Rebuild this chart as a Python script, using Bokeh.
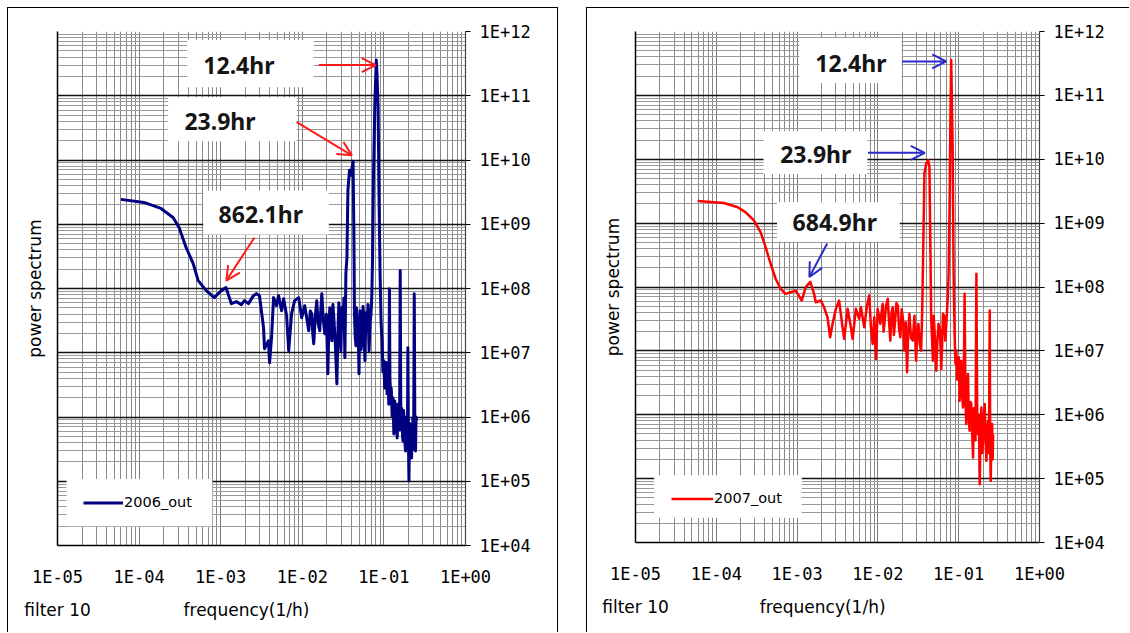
from bokeh.plotting import figure
from bokeh.models import (LogAxis, CustomJSTickFormatter, Label, BoxAnnotation, Arrow,
                          OpenHead, Legend, LegendItem, ColumnDataSource, FixedTicker, Spacer)
from bokeh.layouts import row, column
from bokeh.embed import file_html
from bokeh.resources import INLINE

# ---------------- data (log10 of frequency [1/h] and log10 of power) ----------------
log_freq_2006 = [-4.224, -3.941, -3.732, -3.584, -3.510, -3.424, -3.337, -3.276, -3.177, -3.079,
                 -2.993, -2.936, -2.869, -2.808, -2.746, -2.709, -2.660, -2.599, -2.562, -2.525,
                 -2.475, -2.463, -2.414, -2.401, -2.377, -2.352, -2.315, -2.291, -2.254, -2.229,
                 -2.192, -2.167, -2.131, -2.094, -2.044, -2.007, -1.970, -1.921, -1.902, -1.884,
                 -1.872, -1.860, -1.842, -1.823, -1.805, -1.786, -1.774, -1.761, -1.742, -1.724,
                 -1.705, -1.687, -1.675, -1.663, -1.650, -1.638, -1.625, -1.613, -1.594, -1.576,
                 -1.564, -1.552, -1.540, -1.527, -1.515, -1.502, -1.490, -1.478, -1.466, -1.453,
                 -1.441, -1.422, -1.404, -1.378, -1.367, -1.361, -1.352, -1.342, -1.336, -1.330,
                 -1.318, -1.305, -1.299, -1.293, -1.280, -1.268, -1.256, -1.244, -1.238, -1.232,
                 -1.220, -1.207, -1.195, -1.182, -1.170, -1.158, -1.148, -1.139, -1.127, -1.110,
                 -1.093, -1.084, -1.071, -1.059, -1.047, -1.034, -1.022, -1.012, -1.001, -0.991,
                 -0.982, -0.971, -0.961, -0.954, -0.948, -0.940, -0.932, -0.926, -0.920, -0.910,
                 -0.899, -0.889, -0.878, -0.868, -0.858, -0.847, -0.837, -0.827, -0.817, -0.808,
                 -0.800, -0.792, -0.784, -0.775, -0.767, -0.759, -0.751, -0.743, -0.735, -0.726,
                 -0.718, -0.712, -0.706, -0.699, -0.693, -0.685, -0.677, -0.669, -0.661, -0.652,
                 -0.644, -0.636, -0.628, -0.620, -0.612, -0.606, -0.600]
log_power_2006 = [9.387, 9.340, 9.246, 9.106, 8.950, 8.638, 8.388, 8.123, 7.967, 7.858,
                  7.967, 8.014, 7.764, 7.796, 7.749, 7.811, 7.764, 7.889, 7.920, 7.889,
                  7.390, 7.062, 7.187, 6.844, 7.234, 7.858, 7.733, 7.889, 7.655, 7.842,
                  7.577, 7.031, 7.608, 7.811, 7.858, 7.546, 7.733, 7.343, 7.650, 7.608,
                  7.300, 7.140, 7.550, 7.811, 7.450, 7.343, 7.650, 7.920, 7.500, 7.296,
                  7.600, 6.672, 7.350, 7.702, 7.400, 7.187, 7.750, 7.530, 7.100, 6.516,
                  7.300, 7.780, 7.350, 7.031, 7.700, 7.452, 7.850, 6.922, 8.232, 8.482,
                  9.527, 9.839, 9.761, 9.980, 8.747, 7.608, 7.250, 7.109, 7.700, 7.343,
                  7.550, 6.672, 7.400, 7.655, 7.050, 7.187, 7.720, 7.530, 7.100, 6.875,
                  7.620, 7.343, 7.750, 7.031, 7.450, 7.608, 7.900, 8.482, 9.793, 10.931,
                  11.555, 11.321, 10.822, 9.371, 8.232, 7.452, 7.187, 6.700, 6.875, 6.450,
                  6.672, 6.850, 6.360, 6.800, 6.672, 6.200, 7.998, 6.600, 6.407, 6.450,
                  6.014, 6.300, 5.736, 6.250, 6.142, 5.900, 5.674, 6.200, 6.049, 5.800,
                  8.279, 5.850, 6.142, 5.800, 5.627, 6.100, 5.892, 5.600, 5.471, 6.000,
                  5.830, 5.500, 7.078, 5.600, 5.003, 5.900, 5.736, 5.550, 5.362, 5.800,
                  5.986, 5.500, 7.920, 5.700, 5.471, 6.000, 5.939]

log_freq_2007 = [-4.231, -3.908, -3.742, -3.639, -3.535, -3.452, -3.390, -3.328, -3.266, -3.204,
                 -3.142, -3.080, -3.017, -2.943, -2.893, -2.836, -2.790, -2.769, -2.707, -2.666,
                 -2.624, -2.591, -2.561, -2.520, -2.480, -2.437, -2.417, -2.375, -2.334, -2.313,
                 -2.272, -2.231, -2.210, -2.169, -2.135, -2.107, -2.086, -2.065, -2.045, -2.024,
                 -2.003, -1.970, -1.955, -1.940, -1.930, -1.921, -1.900, -1.878, -1.862, -1.846,
                 -1.831, -1.816, -1.802, -1.788, -1.771, -1.754, -1.738, -1.722, -1.705, -1.690,
                 -1.672, -1.656, -1.639, -1.625, -1.610, -1.590, -1.568, -1.548, -1.527, -1.512,
                 -1.498, -1.482, -1.465, -1.452, -1.440, -1.424, -1.402, -1.378, -1.362, -1.340,
                 -1.330, -1.319, -1.309, -1.299, -1.289, -1.278, -1.264, -1.250, -1.233, -1.216,
                 -1.205, -1.195, -1.180, -1.166, -1.154, -1.142, -1.133, -1.125, -1.113, -1.103,
                 -1.093, -1.076, -1.063, -1.051, -1.040, -1.030, -1.020, -1.009, -0.999, -0.989,
                 -0.978, -0.968, -0.957, -0.947, -0.937, -0.927, -0.916, -0.906, -0.895, -0.885,
                 -0.875, -0.865, -0.854, -0.844, -0.833, -0.822, -0.812, -0.803, -0.792, -0.781,
                 -0.770, -0.760, -0.750, -0.740, -0.729, -0.719, -0.708, -0.698, -0.688, -0.678,
                 -0.667, -0.657, -0.646, -0.636, -0.626, -0.616, -0.610, -0.604, -0.595, -0.586,
                 -0.580, -0.574]
log_power_2007 = [9.346, 9.314, 9.252, 9.173, 9.043, 8.860, 8.624, 8.364, 8.129, 7.972,
                  7.893, 7.918, 7.945, 7.788, 7.997, 8.080, 7.893, 7.762, 7.788, 7.683,
                  7.526, 7.213, 7.423, 7.658, 7.788, 7.369, 7.187, 7.658, 7.369, 7.187,
                  7.658, 7.501, 7.683, 7.369, 7.710, 7.867, 7.369, 7.109, 7.526, 6.874,
                  7.658, 7.423, 7.600, 7.737, 7.300, 7.396, 7.700, 7.815, 7.450, 7.161,
                  7.600, 7.683, 7.250, 7.448, 7.750, 7.710, 7.350, 7.213, 7.650, 7.500,
                  7.004, 7.450, 6.664, 7.300, 7.580, 7.200, 7.161, 7.550, 6.847, 7.350,
                  7.423, 7.100, 7.004, 7.600, 8.521, 9.776, 9.933, 9.984, 9.879, 7.475,
                  7.200, 6.847, 7.550, 7.318, 7.050, 6.690, 7.150, 7.423, 7.350, 6.717,
                  7.100, 7.580, 7.550, 7.161, 7.400, 7.683, 7.900, 8.207, 9.252, 10.560,
                  11.553, 10.298, 8.207, 7.266, 6.800, 7.004, 6.550, 6.638, 6.900, 6.220,
                  6.600, 6.847, 6.300, 6.115, 6.500, 7.893, 6.200, 5.854, 6.300, 6.638,
                  5.950, 5.749, 6.200, 6.168, 5.700, 5.330, 6.100, 6.011, 5.600, 8.207,
                  5.900, 5.697, 6.000, 4.913, 5.700, 6.115, 5.400, 5.592, 6.000, 6.168,
                  5.600, 5.278, 5.800, 5.906, 5.400, 7.631, 5.500, 4.965, 5.700, 5.854,
                  5.300, 5.697]

series_names = ["2006_out", "2007_out"]
peak_labels_2006 = ["12.4hr", "23.9hr", "862.1hr"]
peak_labels_2007 = ["12.4hr", "23.9hr", "684.9hr"]
x_tick_values = [1e-5, 1e-4, 1e-3, 1e-2, 1e-1, 1e0]
y_tick_values = [1e4, 1e5, 1e6, 1e7, 1e8, 1e9, 1e10, 1e11, 1e12]
bottom_texts = ["filter 10", "frequency(1/h)"]

# ---------------- annotation layout (log10 coordinates) ----------------
ann_2006 = dict(
    boxes=[(-3.411, -1.860, 11.134, 11.867), (-3.645, -2.069, 10.292, 10.978), (-3.214, -1.675, 8.841, 9.527)],
    texts=[(-2.777, 11.484), (-3.009, 10.604), (-2.509, 9.153)],
    arrows=[(-1.798, 11.477, -1.100, 11.477), (-2.069, 10.588, -1.392, 10.073), (-2.586, 8.794, -2.931, 8.123)],
    legend_box=(-4.889, -3.103, 4.301, 5.034),
)
ann_2007 = dict(
    boxes=[(-2.973, -1.708, 11.192, 11.898), (-3.415, -2.130, 9.771, 10.439), (-3.248, -1.730, 8.707, 9.325)],
    texts=[(-2.334, 11.512), (-2.769, 10.088), (-2.534, 9.012)],
    arrows=[(-1.701, 11.531, -1.154, 11.531), (-2.123, 10.100, -1.420, 10.100), (-2.627, 8.682, -2.848, 8.157)],
    legend_box=(-4.769, -2.943, 4.387, 5.052),
)
bottom_text_pos = [1.0001e-5, 10 ** -2.684]   # x positions of "filter 10" and the axis title

TICK_FONT = "DejaVu Sans Mono"
TEXT_FONT = "DejaVu Sans"

exp_fmt = CustomJSTickFormatter(code="""
const e = Math.round(Math.log10(tick));
const a = Math.abs(e);
return '1E' + (e < 0 ? '-' : '+') + (a < 10 ? '0' + a : String(a));
""")
blank_fmt = CustomJSTickFormatter(code="return '';")
text_fmt = CustomJSTickFormatter(args=dict(labels=bottom_texts), code="return labels[index];")


def make_panel(lf, lp, name, color, lw, labels, ann, arrow_color, frame_w, frame_h,
               b_left, b_right, b_top, b_bottom, legend_loc, glyph_w, css):
    p = figure(x_axis_type="log", y_axis_type="log", x_range=(1e-5, 1.0), y_range=(1e4, 1e12),
               frame_width=frame_w, frame_height=frame_h,
               min_border_left=b_left, min_border_right=b_right, min_border_top=b_top,
               min_border_bottom=b_bottom,
               toolbar_location=None, output_backend="svg", y_axis_location="right")
    p.outline_line_color = None
    p.background_fill_color = "white"
    p.border_fill_color = "white"
    p.styles = css

    xt = FixedTicker(ticks=x_tick_values,
                     minor_ticks=[m * t for t in x_tick_values[:-1] for m in range(2, 10)])
    yt = FixedTicker(ticks=y_tick_values,
                     minor_ticks=[m * t for t in y_tick_values[:-1] for m in range(2, 10)])

    # grids
    p.xgrid.ticker = xt
    p.ygrid.ticker = yt
    p.xgrid.grid_line_color = "#7a7a7a"
    p.xgrid.grid_line_width = 1
    p.xgrid.minor_grid_line_color = "#8a8a8a"
    p.xgrid.minor_grid_line_width = 1
    p.ygrid.grid_line_color = "#111111"
    p.ygrid.grid_line_width = 1.6
    p.ygrid.minor_grid_line_color = "#9a9a9a"
    p.ygrid.minor_grid_line_width = 1

    # bottom axis: decade labels
    xa = p.xaxis[0]
    xa.ticker = xt
    xa.formatter = exp_fmt
    xa.major_tick_out = 0
    xa.major_tick_in = 0
    xa.minor_tick_out = 0
    xa.minor_tick_in = 0
    xa.major_label_standoff = 21
    xa.major_label_text_font = TICK_FONT
    xa.major_label_text_font_size = "17px"
    xa.major_label_text_color = "black"
    xa.axis_line_color = "black"
    xa.axis_line_width = 1.5

    # second bottom row: "filter 10" and the axis title
    xb = LogAxis(ticker=FixedTicker(ticks=bottom_text_pos, minor_ticks=[]), formatter=text_fmt,
                 axis_line_color=None, major_tick_out=0, major_tick_in=0, minor_tick_out=0,
                 minor_tick_in=0, major_label_standoff=10, major_label_text_font=TEXT_FONT,
                 major_label_text_font_size="17px", major_label_text_color="black")
    p.add_layout(xb, "below")

    # right axis with labels
    ya = p.yaxis[0]
    ya.ticker = yt
    ya.formatter = exp_fmt
    ya.major_tick_out = 5
    ya.major_tick_in = 0
    ya.minor_tick_out = 0
    ya.minor_tick_in = 0
    ya.major_label_standoff = 9
    ya.major_label_text_font = TICK_FONT
    ya.major_label_text_font_size = "17px"
    ya.major_label_text_color = "black"
    ya.axis_line_color = "#444444"
    ya.axis_line_width = 1.2

    # left axis: only line and title
    la = LogAxis(ticker=yt, formatter=blank_fmt, major_tick_out=0, major_tick_in=0,
                 minor_tick_out=0, minor_tick_in=0, major_label_standoff=0,
                 axis_line_color="black", axis_line_width=1.5,
                 axis_label="power spectrum", axis_label_text_font=TEXT_FONT,
                 axis_label_text_font_size="17px", axis_label_text_font_style="normal",
                 axis_label_text_color="black", axis_label_standoff=13)
    p.add_layout(la, "left")

    src = ColumnDataSource(data=dict(f=[10 ** v for v in lf], pw=[10 ** v for v in lp]))
    r = p.line(x="f", y="pw", source=src, line_color=color, line_width=lw, line_join="round")

    # white legend panel
    l0, l1, b0, b1 = ann["legend_box"]
    p.add_layout(BoxAnnotation(left=10 ** l0, right=10 ** l1, bottom=10 ** b0, top=10 ** b1,
                               fill_color="white", fill_alpha=1.0, line_color=None))
    leg = Legend(items=[LegendItem(label=name, renderers=[r])], location=legend_loc,
                 border_line_color=None, background_fill_color="white", background_fill_alpha=0.0,
                 padding=0, margin=0, spacing=0, glyph_width=glyph_w, glyph_height=15,
                 label_standoff=1, label_height=15, label_text_font=TEXT_FONT,
                 label_text_font_size="14.5px", label_text_color="black")
    p.add_layout(leg)

    for (l, rr, b, t) in ann["boxes"]:
        p.add_layout(BoxAnnotation(left=10 ** l, right=10 ** rr, bottom=10 ** b, top=10 ** t,
                                   fill_color="white", fill_alpha=1.0, line_color=None))
    for (tx, ty), txt in zip(ann["texts"], labels):
        p.add_layout(Label(x=10 ** tx, y=10 ** ty, text=txt, text_align="center",
                           text_baseline="middle", text_font="Noto Sans", text_font_style="bold",
                           text_font_size="23px", text_color="#151515"))
    for (x0, y0, x1, y1) in ann["arrows"]:
        p.add_layout(Arrow(x_start=10 ** x0, y_start=10 ** y0, x_end=10 ** x1, y_end=10 ** y1,
                           line_color=arrow_color, line_width=2,
                           end=OpenHead(line_color=arrow_color, line_width=2, size=14)))
    return p


border3 = {"border-left": "1px solid black", "border-top": "1px solid black",
           "border-right": "1px solid black"}
border2 = {"border-left": "1px solid black", "border-top": "1px solid black"}

p1 = make_panel(log_freq_2006, log_power_2006, series_names[0], "#000080", 3.0, peak_labels_2006,
                ann_2006, "#ff1a1a", 406, 513, 49, 94, 23, 88, (26, 35), 40, border3)
p2 = make_panel(log_freq_2007, log_power_2007, series_names[1], "#ff0000", 2.5, peak_labels_2007,
                ann_2007, "#2a2ac8", 403, 510, 48, 91, 23, 91, (36, 36), 42, border2)

layout = column(Spacer(width=10, height=7),
                row(Spacer(width=7, height=10), p1, Spacer(width=28, height=10), p2))
open("out.html", "w").write(file_html(layout, INLINE))
